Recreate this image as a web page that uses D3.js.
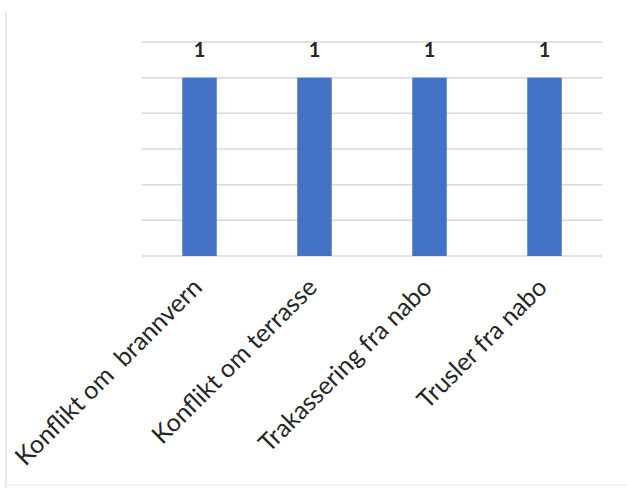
<!DOCTYPE html>
<html>
<head>
<meta charset="utf-8">
<script src="https://cdn.jsdelivr.net/npm/d3@7"></script>
<style>
  html, body { margin: 0; padding: 0; background: #ffffff; }
  svg { display: block; }
  text { white-space: pre; }
</style>
</head>
<body>
<svg id="chart" width="627" height="488"></svg>
<script>
const categories = ["Konflikt om  brannvern", "Konflikt om terrasse", "Trakassering fra nabo", "Trusler fra nabo"];
const values = [1, 1, 1, 1];
const yTicks = [0, 0.2, 0.4, 0.6, 0.8, 1.0, 1.2];

const svg = d3.select("#chart");
const W = 627, H = 488;
const margin = { left: 142, right: 25, top: 42, bottom: 232 };

// faint frame edges from the screenshot
svg.append("line").attr("x1", 6).attr("x2", 6).attr("y1", 12).attr("y2", H)
  .attr("stroke", "#e3e3e3").attr("stroke-width", 1.5);
svg.append("line").attr("x1", 6).attr("x2", W).attr("y1", 485).attr("y2", 485)
  .attr("stroke", "#f0f0f0").attr("stroke-width", 1.5);

const x = d3.scaleBand().domain(categories)
  .range([margin.left, W - margin.right])
  .paddingInner(0.7).paddingOuter(0.35);
const y = d3.scaleLinear().domain([0, 1.2]).range([H - margin.bottom, margin.top]);

// gridlines
svg.append("g").selectAll("line").data(yTicks).join("line")
  .attr("x1", margin.left).attr("x2", W - margin.right)
  .attr("y1", d => y(d)).attr("y2", d => y(d))
  .attr("stroke", "#d9d9d9").attr("stroke-width", 1.5);

// bars
svg.append("g").selectAll("rect").data(categories).join("rect")
  .attr("x", d => x(d))
  .attr("y", (d, i) => y(values[i]))
  .attr("width", x.bandwidth())
  .attr("height", (d, i) => y(0) - y(values[i]))
  .attr("fill", "#4472c4");

// value labels
svg.append("g").selectAll("text").data(categories).join("text")
  .attr("x", d => x(d) + x.bandwidth() / 2)
  .attr("y", (d, i) => y(values[i]) - 21)
  .attr("text-anchor", "middle")
  .attr("font-family", "Lato, 'Open Sans', sans-serif")
  .attr("font-weight", "bold")
  .attr("font-size", 20)
  .attr("fill", "#262626")
  .text((d, i) => values[i]);

// category labels
svg.append("g").selectAll("text").data(categories).join("text")
  .attr("transform", d => `translate(${x(d) + x.bandwidth() / 2 + 4},${y(0) + 33}) rotate(-45)`)
  .attr("text-anchor", "end")
  .attr("xml:space", "preserve")
  .attr("font-family", "Lato, 'Open Sans', sans-serif")
  .attr("font-size", 25)
  .attr("fill", "#262626")
  .text(d => d);
</script>
</body>
</html>
